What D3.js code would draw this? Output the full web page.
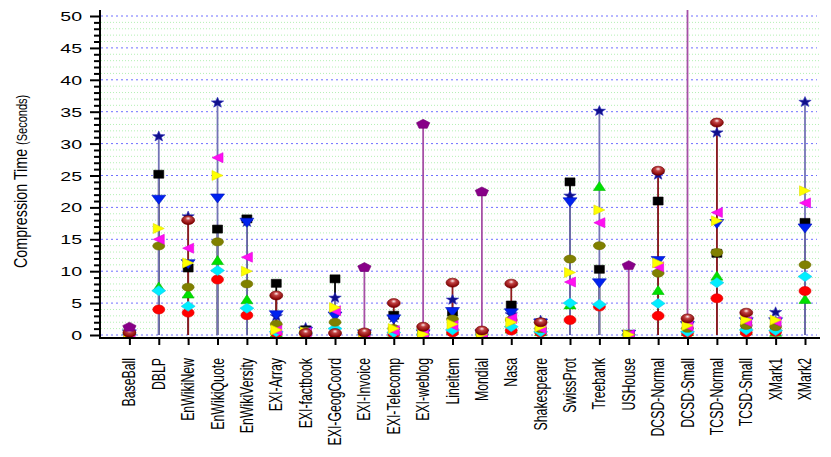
<!DOCTYPE html>
<html>
<head>
<meta charset="utf-8">
<script src="https://cdn.jsdelivr.net/npm/d3@7/dist/d3.min.js"></script>
<style>
  html, body { margin: 0; padding: 0; background: #fff; }
  svg { display: block; }
  text { font-family: "Liberation Sans", Arial, Helvetica, sans-serif; fill: #000; }
</style>
</head>
<body>
<svg id="chart" width="831" height="457"></svg>
<script>
// ---------------- DATA ----------------
const categories = ["BaseBall","DBLP","EnWikiNew","EnWikiQuote","EnWikiVersity","EXI-Array","EXI-factbook",
  "EXI-GeogCoord","EXI-Invoice","EXI-Telecomp","EXI-weblog","Lineitem","Mondial","Nasa","Shakespeare",
  "SwissProt","Treebank","USHouse","DCSD-Normal","DCSD-Small","TCSD-Normal","TCSD-Small","XMark1","XMark2"];

const starVals     = [0.2,31.2,18.65,36.5,17.8,3.0,1.2,5.9,0.2,2.8,0.4,5.6,0.2,3.3,2.35,21.9,35.2,0.1,25.2,1.8,31.8,2.3,3.65,36.6];
const squareVals   = [0.1,25.2,10.5,16.6,18.2,8.1,0.8,8.8,0.1,3.1,0.1,3.6,0.1,4.7,1.5,24.0,10.3,0.05,21.0,2.1,12.8,1.5,1.3,17.65];
const downVals     = [0.1,21.2,11.1,21.4,17.6,3.1,0.5,2.9,0.1,2.45,0.1,3.6,0.1,3.4,1.8,20.8,8.1,0.05,11.6,1.4,17.4,2.0,2.0,16.7];
const rightVals    = [0.1,16.7,11.3,25.0,10.0,0.8,0.5,4.3,0.15,1.0,0.1,1.7,0.1,2.0,1.3,9.8,19.6,0.05,11.3,1.5,17.9,2.4,2.35,22.6];
const leftVals     = [0.1,15.0,13.6,27.8,12.2,0.7,0.4,3.8,0.1,0.7,0.1,1.5,0.1,2.6,1.0,8.3,17.6,0.05,10.7,1.4,19.2,2.1,2.1,20.7];
const oliveVals    = [0.2,13.95,7.5,14.6,8.0,1.7,0.6,2.0,0.2,1.0,0.2,2.5,0.2,2.35,1.0,11.9,14.0,0.1,9.7,1.05,12.95,1.5,1.3,11.0];
const upVals       = [0.1,7.6,6.5,11.75,5.6,0.4,0.3,1.0,0.1,0.5,0.05,0.8,0.05,1.0,0.6,4.8,23.35,0.02,7.05,0.6,9.3,0.8,0.5,5.65];
const diamondVals  = [0.1,6.95,4.5,10.1,4.2,0.5,0.3,1.0,0.1,0.4,0.05,0.8,0.05,1.3,0.5,5.0,4.8,0.02,4.95,0.5,8.2,0.8,0.7,9.15];
const redVals      = [0.05,4.0,3.5,8.7,3.1,0.3,0.2,0.2,0.05,0.2,0.05,0.4,0.05,0.7,0.4,2.35,4.45,0.02,3.0,0.3,5.75,0.4,0.5,6.9];
const maroonVals   = [0.36,null,18.0,null,null,6.2,0.3,0.3,0.4,5.0,1.3,8.2,0.7,8.05,2.0,null,null,null,25.75,2.6,33.3,3.5,null,null];
const pentagonVals = [1.3,null,null,null,null,null,null,null,10.65,null,33.1,null,22.5,null,null,null,null,10.95,null,60,null,null,null,null];

const yMajorTicks = [0,5,10,15,20,25,30,35,40,45,50];
const yTitle = "Compression Time";
const yTitleUnit = "(Seconds)";

// ---------------- LAYOUT ----------------
const svg = d3.select("#chart");
const plotL = 100, plotR = 820, plotT = 10, axisY = 338;
const SX = 1.55; // horizontal stretch of the original rendering

const x = d3.scaleLinear().domain([0, categories.length - 1]).range([129.4, 805]);
const y = d3.scaleLinear().domain([0, 50]).range([335, 16]);

const defs = svg.append("defs");
defs.append("clipPath").attr("id", "clip")
  .append("rect").attr("x", plotL).attr("y", plotT).attr("width", plotR - plotL).attr("height", axisY - plotT);
const grad = defs.append("radialGradient").attr("id", "maroonGrad")
  .attr("cx", "50%").attr("cy", "35%").attr("r", "60%").attr("fx", "50%").attr("fy", "30%");
grad.append("stop").attr("offset", "0%").attr("stop-color", "#fff0f0");
grad.append("stop").attr("offset", "35%").attr("stop-color", "#c04040");
grad.append("stop").attr("offset", "100%").attr("stop-color", "#800000");

// grid
const minorTicks = d3.range(1, 50).filter(v => v % 5 !== 0);
svg.append("g").selectAll("line").data(minorTicks).join("line")
  .attr("x1", plotL + 1).attr("x2", plotR)
  .attr("y1", d => y(d)).attr("y2", d => y(d))
  .attr("stroke", "#b4f0b4").attr("stroke-width", 1).attr("stroke-dasharray", "1,2");
svg.append("g").selectAll("line").data(yMajorTicks).join("line")
  .attr("x1", plotL + 1).attr("x2", plotR - 3)
  .attr("y1", d => y(d)).attr("y2", d => y(d))
  .attr("stroke", "#6f6fff").attr("stroke-width", 1).attr("stroke-dasharray", "2,3");

const plot = svg.append("g").attr("clip-path", "url(#clip)");

// impulses
const impulses = [
  {vals: squareVals,   color: "#000000"},
  {vals: starVals,     color: "#7474b6"},
  {vals: maroonVals,   color: "#8e1c1c"},
  {vals: pentagonVals, color: "#a650a6"}
];
impulses.forEach(s => {
  plot.append("g").selectAll("line")
    .data(s.vals.map((v, i) => ({v, i})).filter(d => d.v != null))
    .join("line")
    .attr("x1", d => x(d.i)).attr("x2", d => x(d.i))
    .attr("y1", y(0)).attr("y2", d => y(d.v))
    .attr("stroke", s.color).attr("stroke-width", 1.8);
});

// marker shapes
function poly(pts, w, h) {
  return "M" + pts.map(p => (p[0] * w / 2).toFixed(2) + "," + (p[1] * h / 2).toFixed(2)).join("L") + "Z";
}
function starPts() {
  const p = [];
  for (let k = 0; k < 10; k++) {
    const a = -Math.PI / 2 + k * Math.PI / 5, r = k % 2 ? 0.42 : 1;
    p.push([r * Math.cos(a), r * Math.sin(a) + 0.1]);
  }
  return p;
}
function pentPts() {
  const p = [];
  for (let k = 0; k < 5; k++) {
    const a = -Math.PI / 2 + k * 2 * Math.PI / 5;
    p.push([Math.cos(a), Math.sin(a) * 1.1 + 0.1]);
  }
  return p;
}
const shapes = {
  star: (w, h) => poly(starPts(), w, h),
  pentagon: (w, h) => poly(pentPts(), w, h),
  up: (w, h) => poly([[0,-1],[1,1],[-1,1]], w, h),
  down: (w, h) => poly([[0,1],[1,-1],[-1,-1]], w, h),
  left: (w, h) => poly([[-1,0],[1,-1],[1,1]], w, h),
  right: (w, h) => poly([[1,0],[-1,-1],[-1,1]], w, h),
  diamond: (w, h) => poly([[0,-1],[1,0],[0,1],[-1,0]], w, h),
  square: (w, h) => poly([[-1,-1],[1,-1],[1,1],[-1,1]], w, h)
};

const markerSeries = [
  {vals: starVals,     type: "star",     w: 13, h: 11, fill: "#10108a", stroke: "#3030c0"},
  {vals: squareVals,   type: "square",   w: 10, h: 8,  fill: "#000000", stroke: "#000"},
  {vals: downVals,     type: "down",     w: 14, h: 9,  fill: "#0022ee", stroke: "#0010c0"},
  {vals: upVals,       type: "up",       w: 12, h: 9,  fill: "#00e000", stroke: "#00c000"},
  {vals: redVals,      type: "ellipse",  w: 12, h: 9,  fill: "#ff0000", stroke: "#e00000"},
  {vals: diamondVals,  type: "diamond",  w: 14, h: 10, fill: "#00eeff", stroke: "#20c8e8"},
  {vals: oliveVals,    type: "ellipse",  w: 12, h: 8,  fill: "#808000", stroke: "#707000"},
  {vals: leftVals,     type: "left",     w: 11, h: 10, fill: "#ff10f0", stroke: "#e000e0"},
  {vals: rightVals,    type: "right",    w: 11, h: 10, fill: "#ffff00", stroke: "#e0e000"},
  {vals: maroonVals,   type: "maroon",   w: 13, h: 9,  fill: "url(#maroonGrad)", stroke: "#700000"},
  {vals: pentagonVals, type: "pentagon", w: 14, h: 9,  fill: "#880088", stroke: "#700070"}
];

markerSeries.forEach(s => {
  const data = s.vals.map((v, i) => ({v, i})).filter(d => d.v != null);
  const g = plot.append("g");
  if (s.type === "ellipse" || s.type === "maroon") {
    g.selectAll("ellipse").data(data).join("ellipse")
      .attr("cx", d => x(d.i)).attr("cy", d => y(d.v))
      .attr("rx", s.w / 2).attr("ry", s.h / 2)
      .attr("fill", s.fill).attr("stroke", s.stroke).attr("stroke-width", 0.6);
  } else {
    g.selectAll("path").data(data).join("path")
      .attr("transform", d => `translate(${x(d.i)},${y(d.v)})`)
      .attr("d", shapes[s.type](s.w, s.h))
      .attr("fill", s.fill).attr("stroke", s.stroke).attr("stroke-width", 0.6);
  }
});

// axes
const yAxisG = svg.append("g").attr("transform", `translate(${plotL},0)`)
  .call(d3.axisLeft(y).tickValues(yMajorTicks).tickSize(10).tickFormat(d3.format("d")));
yAxisG.select(".domain").remove();
yAxisG.selectAll(".tick line").attr("stroke", "#000").attr("stroke-width", 2);
yAxisG.selectAll(".tick text")
  .attr("x", -18 / SX).attr("dy", "0.36em")
  .attr("transform", `scale(${SX},1)`)
  .style("font-size", "12.6px").attr("text-anchor", "end");

const yMinorG = svg.append("g").attr("transform", `translate(${plotL},0)`)
  .call(d3.axisLeft(y).tickValues(minorTicks).tickSize(6).tickFormat(""));
yMinorG.select(".domain").remove();
yMinorG.selectAll(".tick line").attr("stroke", "#000").attr("stroke-width", 2);

const xAxisG = svg.append("g").attr("transform", `translate(0,${axisY})`)
  .call(d3.axisBottom(x).tickValues(d3.range(categories.length)).tickSize(7).tickFormat(i => categories[i]));
xAxisG.select(".domain").remove();
xAxisG.selectAll(".tick line").attr("stroke", "#000").attr("stroke-width", 2);
xAxisG.selectAll(".tick text")
  .attr("x", 0).attr("y", 0).attr("dy", 0)
  .attr("transform", `translate(5.5,20) scale(${SX},1) rotate(-90)`)
  .attr("text-anchor", "end")
  .style("font-size", "12.3px");

// axis lines
svg.append("line").attr("x1", plotL).attr("x2", plotL).attr("y1", plotT).attr("y2", axisY + 1)
  .attr("stroke", "#000").attr("stroke-width", 2);
svg.append("line").attr("x1", plotL - 1).attr("x2", plotR).attr("y1", axisY).attr("y2", axisY)
  .attr("stroke", "#000").attr("stroke-width", 2);

// y title
const title = svg.append("text")
  .attr("transform", `translate(27,268) scale(1.25,1) rotate(-90)`)
  .attr("text-anchor", "start")
  .style("font-size", "14.3px");
title.append("tspan").text(yTitle + " ");
title.append("tspan").style("font-size", "11px").text(yTitleUnit);
</script>
</body>
</html>
